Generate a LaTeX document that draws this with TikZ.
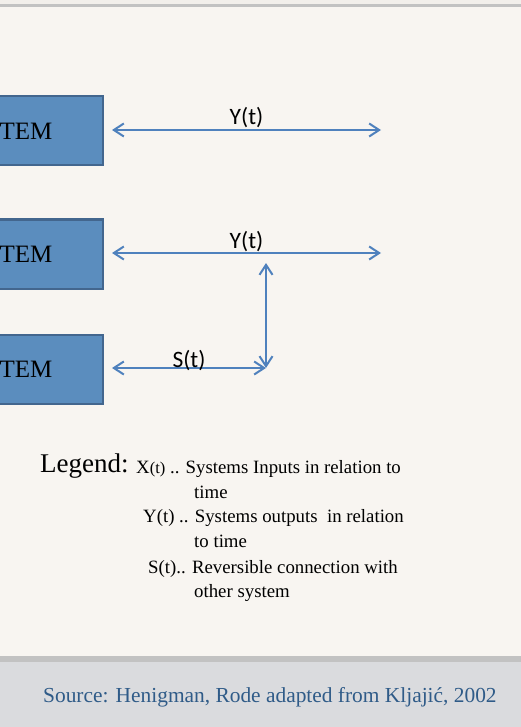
\documentclass[tikz,border=0pt]{standalone}
\usepackage{fontspec}
\setmainfont{Liberation Serif}
\newfontfamily\calibrifont{Carlito}
\usetikzlibrary{arrows.meta, positioning}
\definecolor{cBg}{HTML}{F8F5F1}
\definecolor{cBand}{HTML}{DADBDE}
\definecolor{cRule}{HTML}{C2C2C2}
\definecolor{cBox}{HTML}{5B8DBE}
\definecolor{cBoxEdge}{HTML}{43668E}
\definecolor{cLink}{HTML}{4F81BD}
\definecolor{cSource}{HTML}{2F5B88}

\begin{document}
\begin{tikzpicture}[
  x=1pt, y=-1pt,
  sysbox/.style={rectangle, draw=cBoxEdge, line width=2pt, fill=cBox, minimum width=154pt, minimum height=69pt, inner sep=0pt, font=\fontsize{25}{29}\selectfont},
  link/.style={draw=cLink, line width=1.2pt, {Straight Barb[length=10pt,width=13pt,line width=2pt]}-{Straight Barb[length=10pt,width=13pt,line width=2pt]}},
  sig/.style={font=\calibrifont\fontsize{23.5}{27}\selectfont, anchor=base},
  legtext/.style={anchor=base west, inner sep=0pt, font=\fontsize{18.8}{22}\selectfont}
]
\useasboundingbox (0,0) rectangle (521,727);
\fill[cBg] (0,0) rectangle (521,727);
\fill[cBg!95!gray] (0,0) rectangle (521,4);
\fill[cRule] (0,4) rectangle (521,7);
\fill[cRule] (0,656) rectangle (521,662);
\fill[cBand] (0,662) rectangle (521,727);

\node[sysbox] (S1) at (26,131) {TEM};
\node[sysbox] (S2) at (26,254) {TEM};
\node[sysbox] (S3) at (26,369) {TEM};

\coordinate (y1end) at (381,130);
\coordinate (y2end) at (381,253);
\coordinate (stop) at (266,263);
\coordinate (send) at (266,368);

\draw[link] ([xshift=8pt]S1.east |- y1end) -- node[sig, midway, yshift=5pt] (Y1) {Y(t)} (y1end);
\draw[link] ([xshift=8pt]S2.east |- y2end) -- node[sig, midway, yshift=5pt] (Y2) {Y(t)} (y2end);
\draw[link] ([xshift=8pt]S3.east |- send) -- node[sig, midway, yshift=1pt] (St) {S(t)} (send);
\draw[link] (stop) -- (send);

\node[anchor=base west, inner sep=0pt, font=\fontsize{27}{30}\selectfont] (leg) at (40,472) {Legend:};
\node[legtext] (l1) at (136,473) {X{\fontsize{16.5}{20}\selectfont(t)} .. Systems Inputs in relation to};
\node[legtext] (l1b) at (194,498) {time};
\node[legtext] (l2) at (143,522) {Y(t) .. Systems outputs\ \ in relation};
\node[legtext] (l2b) at (194,547) {to time};
\node[legtext] (l3) at (148,573) {S(t).. Reversible connection with};
\node[legtext] (l3b) at (194,597) {other system};

\node[anchor=base west, inner sep=0pt, text=cSource, font=\fontsize{21.4}{25}\selectfont] (src) at (43,702) {Source: Henigman, Rode adapted from Kljajić, 2002};
\end{tikzpicture}
\end{document}
